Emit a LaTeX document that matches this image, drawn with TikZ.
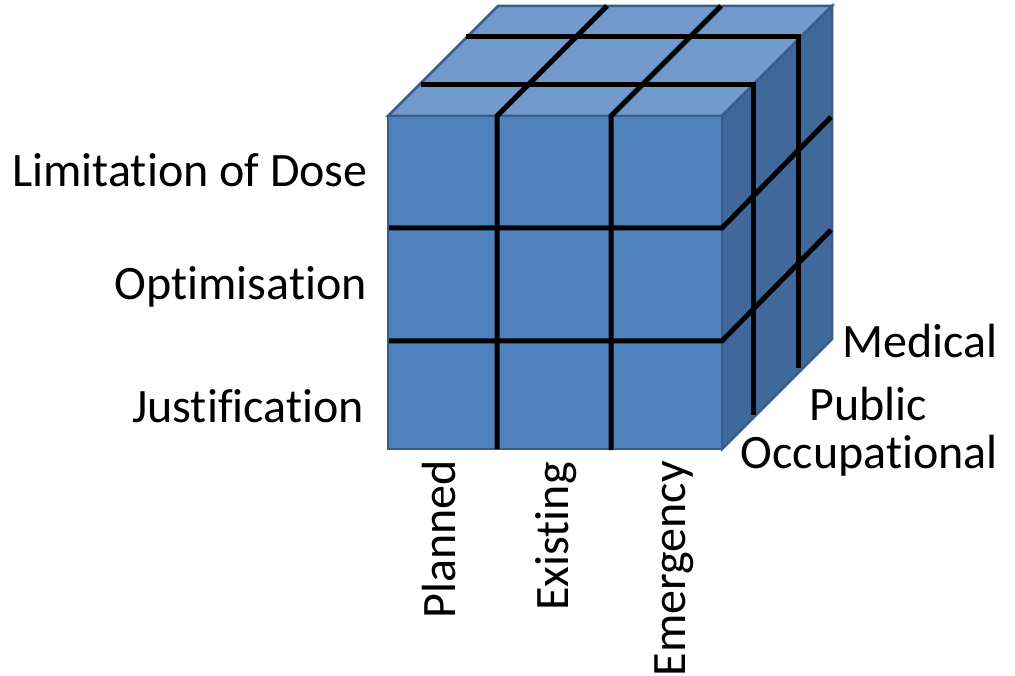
\documentclass[tikz,border=0pt]{standalone}
\usepackage{fontspec}
\setmainfont[Ligatures=NoCommon]{Carlito}
\definecolor{frontblue}{HTML}{4F81BD}
\definecolor{topblue}{HTML}{7299CB}
\definecolor{sideblue}{HTML}{40689A}
\definecolor{edgeblue}{HTML}{385D8A}
\begin{document}
\begin{tikzpicture}[x=1pt,y=-1pt,
  face/.style={draw=edgeblue,line width=2.5pt,line join=miter},
  grid/.style={draw=black,line width=5pt,line join=miter},
  lbl/.style={font=\fontsize{48}{58}\selectfont,inner sep=0pt},
  vlbl/.style={lbl,rotate=90,anchor=base east}]
\useasboundingbox (0,0) rectangle (1015,676);
% cube faces
\fill[white] (0,0) rectangle (1015,676);
\path[face,fill=topblue] (388,116) -- (498,6) -- (832,6) -- (722,116) -- cycle;
\path[face,fill=sideblue] (722,116) -- (832,6) -- (832,339) -- (722,449) -- cycle;
\path[face,fill=frontblue] (388,116) rectangle (722,449);
% dividing lines
\draw[grid] (497,449) -- (497,116) -- (607,6);
\draw[grid] (611,450) -- (611,116) -- (721,6);
\draw[grid] (389,228) -- (722,228) -- (831,117);
\draw[grid] (389,341) -- (722,341) -- (831,230);
\draw[grid] (421,85) -- (753,85) -- (753,415);
\draw[grid] (466,37) -- (798,37) -- (798,368);
% row labels
\node[lbl,anchor=base east] (dose) at (368,187) {Limitation of Dose};
\node[lbl,anchor=base east] (opt) at (367,300) {Optimisation};
\node[lbl,anchor=base east] (just) at (364,422) {Justification};
% depth labels
\node[lbl,anchor=base east] (med) at (998,357) {Medical};
\node[lbl,anchor=base west] (pub) at (809,420) {Public};
\node[lbl,anchor=base east] (occ) at (998,468) {Occupational};
% column labels
\node[vlbl] (plan) at (455,460) {Planned};
\node[vlbl] (exist) at (568,462) {Existing};
\node[vlbl] (emer) at (685,461) {Emergency};
\end{tikzpicture}
\end{document}
